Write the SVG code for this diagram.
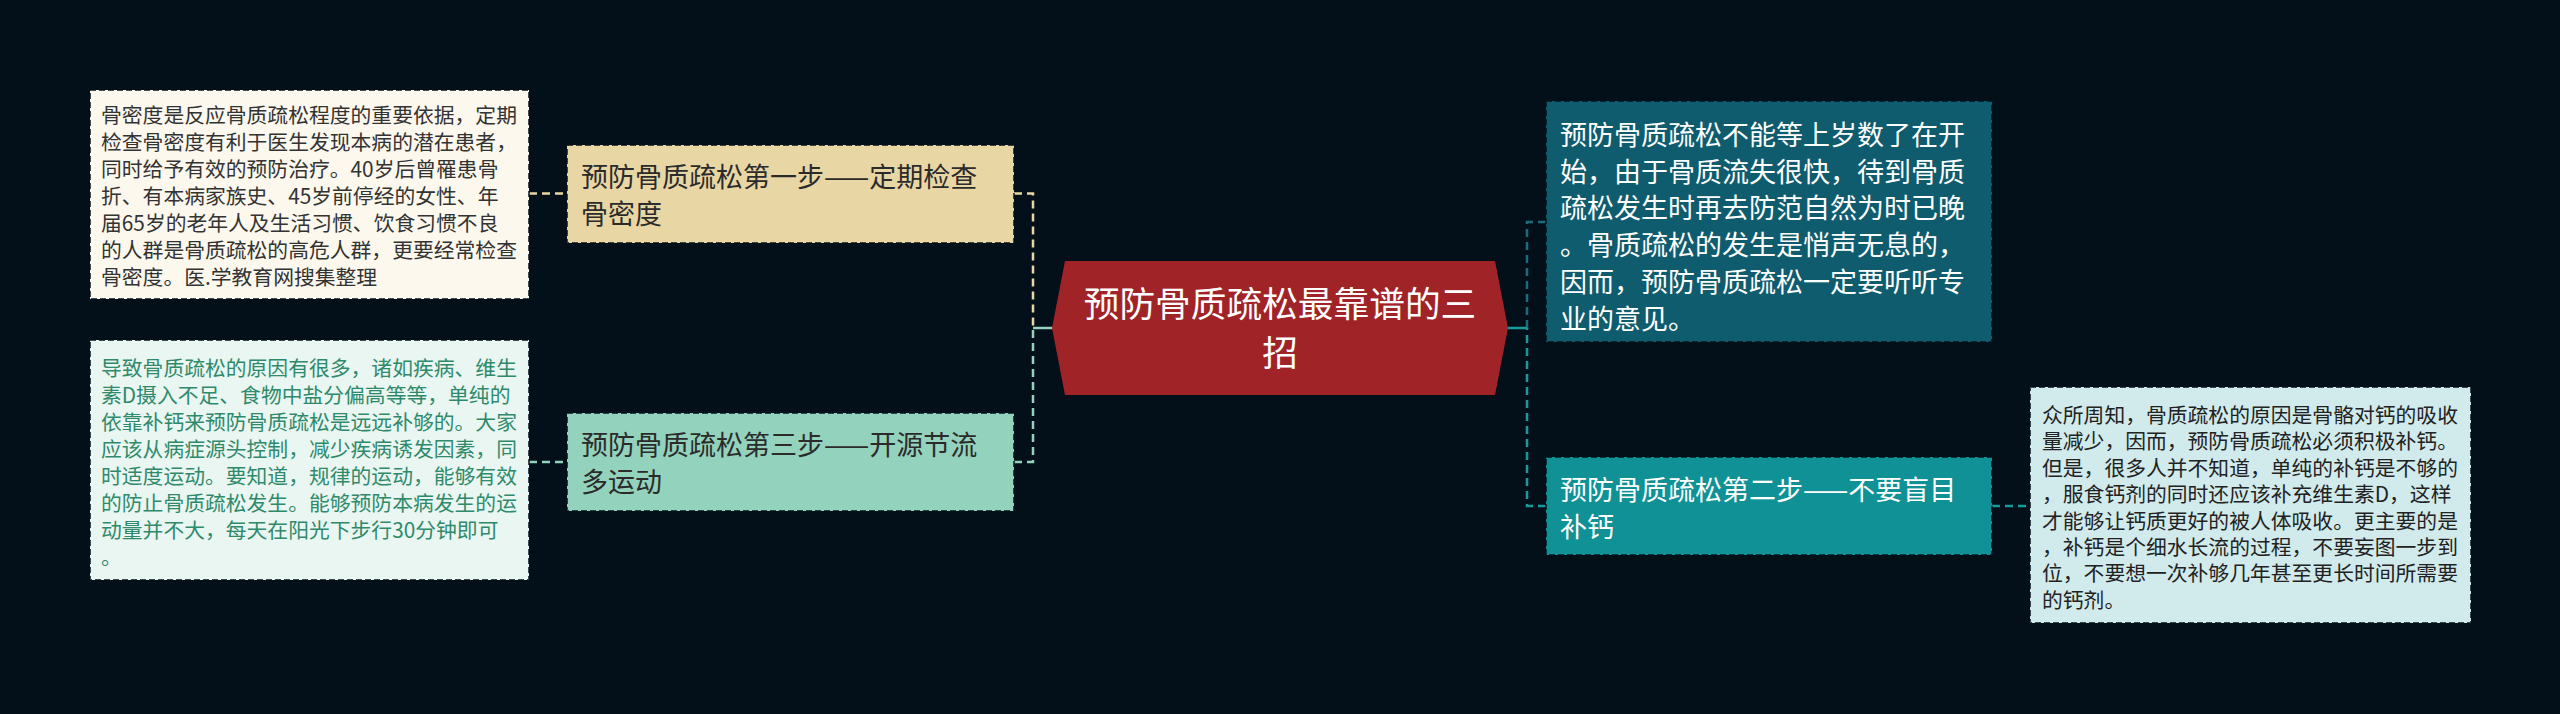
<svg xmlns="http://www.w3.org/2000/svg" width="2560" height="714" viewBox="0 0 2560 714">
<style>
.t{font-family:"Noto Sans CJK SC","Microsoft YaHei",sans-serif;}
.box{stroke:#02101a;stroke-opacity:0.75;stroke-width:2;stroke-dasharray:6 3;}
.c{fill:none;stroke-width:2.5;stroke-dasharray:8 5;}
.s{font-size:20.8px;}
.m{font-size:27px;}
</style>
<rect width="2560" height="714" fill="#03101a"/>
<g id="connectors">
  <path class="c" stroke="#e9d6a5" d="M529 193.5H567M1014 193.5H1033V328"/>
  <path class="c" stroke="#93d2bc" d="M529 462H567M1014 462H1033V328"/>
  <path d="M1033 328H1053" stroke="#93d2bc" stroke-width="2.5" fill="none"/>
  <path class="c" stroke="#1a6b7c" d="M1546 222H1527V328"/>
  <path class="c" stroke="#169a9c" d="M1546 506H1527V328M1992 506H2030"/>
  <path d="M1505 328H1527" stroke="#169a9c" stroke-width="2.5" fill="none"/>
</g>
<g id="center">
  <polygon points="1052,328 1065,261 1495,261 1508,328 1495,395 1065,395" fill="#a02328"/>
  <text class="t" font-size="35.7" fill="#ffffff" text-anchor="middle"><tspan x="1280" y="316.5">预防骨质疏松最靠谱的三</tspan><tspan x="1280" y="365.5">招</tspan></text>
</g>
<g id="step1">
  <rect class="box" x="567" y="145" width="447" height="98" fill="#e9d6a5"/>
  <text class="t m" fill="#2b2b2b"><tspan x="581" y="187">预防骨质疏松第一步——定期检查</tspan><tspan x="581" y="223.5">骨密度</tspan></text>
</g>
<g id="detail1">
  <rect class="box" x="90" y="90" width="439" height="209" fill="#fcf8ee"/>
  <text class="t s" fill="#333333"><tspan x="101" y="123">骨密度是反应骨质疏松程度的重要依据，定期</tspan><tspan x="101" y="150">检查骨密度有利于医生发现本病的潜在患者，</tspan><tspan x="101" y="177">同时给予有效的预防治疗。40岁后曾罹患骨</tspan><tspan x="101" y="204">折、有本病家族史、45岁前停经的女性、年</tspan><tspan x="101" y="231">届65岁的老年人及生活习惯、饮食习惯不良</tspan><tspan x="101" y="258">的人群是骨质疏松的高危人群，更要经常检查</tspan><tspan x="101" y="285">骨密度。医.学教育网搜集整理</tspan></text>
</g>
<g id="step3">
  <rect class="box" x="567" y="413" width="447" height="98" fill="#93d2bc"/>
  <text class="t m" fill="#2b2b2b"><tspan x="581" y="455">预防骨质疏松第三步——开源节流</tspan><tspan x="581" y="491.5">多运动</tspan></text>
</g>
<g id="detail3">
  <rect class="box" x="90" y="340" width="439" height="240" fill="#eaf6f1"/>
  <text class="t s" fill="#2f8a6c"><tspan x="101" y="376">导致骨质疏松的原因有很多，诸如疾病、维生</tspan><tspan x="101" y="403">素D摄入不足、食物中盐分偏高等等，单纯的</tspan><tspan x="101" y="430">依靠补钙来预防骨质疏松是远远补够的。大家</tspan><tspan x="101" y="457">应该从病症源头控制，减少疾病诱发因素，同</tspan><tspan x="101" y="484">时适度运动。要知道，规律的运动，能够有效</tspan><tspan x="101" y="511">的防止骨质疏松发生。能够预防本病发生的运</tspan><tspan x="101" y="538">动量并不大，每天在阳光下步行30分钟即可</tspan><tspan x="101" y="565">。</tspan></text>
</g>
<g id="intro">
  <rect class="box" x="1546" y="101" width="446" height="241" fill="#0e5c6e"/>
  <text class="t m" fill="#ffffff"><tspan x="1560" y="145">预防骨质疏松不能等上岁数了在开</tspan><tspan x="1560" y="181.7">始，由于骨质流失很快，待到骨质</tspan><tspan x="1560" y="218.4">疏松发生时再去防范自然为时已晚</tspan><tspan x="1560" y="255.1">。骨质疏松的发生是悄声无息的，</tspan><tspan x="1560" y="291.8">因而，预防骨质疏松一定要听听专</tspan><tspan x="1560" y="328.5">业的意见。</tspan></text>
</g>
<g id="step2">
  <rect class="box" x="1546" y="457" width="446" height="98" fill="#0f9196"/>
  <text class="t m" fill="#ffffff"><tspan x="1560" y="500">预防骨质疏松第二步——不要盲目</tspan><tspan x="1560" y="536.5">补钙</tspan></text>
</g>
<g id="detail2">
  <rect class="box" x="2030" y="387" width="441" height="236" fill="#d1ebec"/>
  <text class="t s" fill="#222222"><tspan x="2042" y="423">众所周知，骨质疏松的原因是骨骼对钙的吸收</tspan><tspan x="2042" y="449.4">量减少，因而，预防骨质疏松必须积极补钙。</tspan><tspan x="2042" y="475.8">但是，很多人并不知道，单纯的补钙是不够的</tspan><tspan x="2042" y="502.2">，服食钙剂的同时还应该补充维生素D，这样</tspan><tspan x="2042" y="528.6">才能够让钙质更好的被人体吸收。更主要的是</tspan><tspan x="2042" y="555">，补钙是个细水长流的过程，不要妄图一步到</tspan><tspan x="2042" y="581.4">位，不要想一次补够几年甚至更长时间所需要</tspan><tspan x="2042" y="607.8">的钙剂。</tspan></text>
</g>
</svg>
